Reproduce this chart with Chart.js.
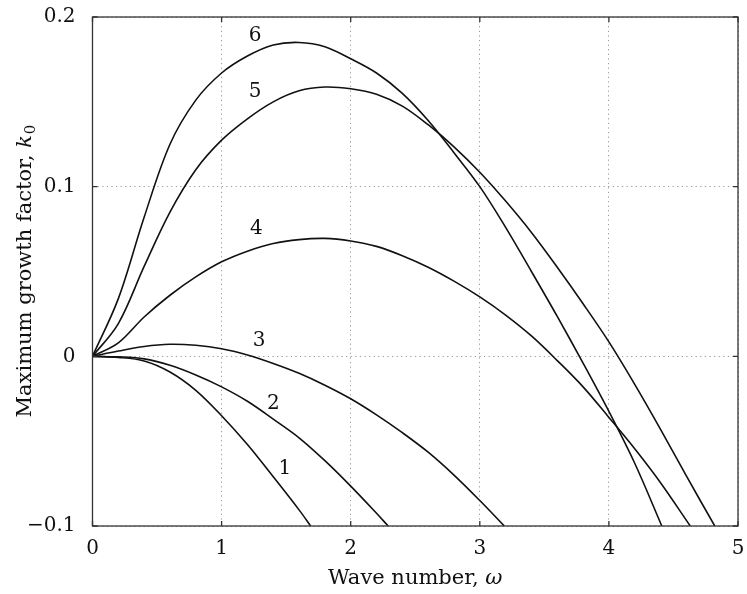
<!DOCTYPE html>
<html>
<head>
<meta charset="utf-8">
<script src="https://cdn.jsdelivr.net/npm/chart.js@4/dist/chart.umd.min.js"></script>
<style>
  html, body { margin: 0; padding: 0; background: #fff; }
  canvas { display: block; }
</style>
</head>
<body>
<canvas id="growthChart" width="747" height="594"></canvas>
<script>
// wave number grid the curves were sampled on
const omega = [0, 0.2, 0.4, 0.6, 0.8, 1, 1.2, 1.4, 1.6, 1.8, 2, 2.2, 2.4, 2.6, 2.8, 3, 3.2, 3.4, 3.6, 3.8, 4, 4.2, 4.4, 4.6];

// maximum growth factor k0 for curves 1..6
const k1 = [0, -0.0006, -0.0027, -0.0092, -0.020, -0.035, -0.052, -0.071, -0.0905];
const k2 = [0, -0.0003, -0.0015, -0.0053, -0.011, -0.018, -0.0265, -0.037, -0.048, -0.0615, -0.0765, -0.0925];
const k3 = [0, 0.0031, 0.0058, 0.0071, 0.0065, 0.0045, 0.0008, -0.0042, -0.0100, -0.0170, -0.025, -0.0345, -0.045, -0.0565, -0.070, -0.085];
const k4 = [0, 0.0079, 0.0232, 0.036, 0.0468, 0.0557, 0.062, 0.0665, 0.0688, 0.0695, 0.068, 0.0648, 0.0593, 0.0525, 0.0443, 0.035, 0.0243, 0.0120, -0.0025, -0.018, -0.036, -0.0545, -0.0745];
const k5 = [0, 0.0193, 0.053, 0.085, 0.110, 0.1274, 0.140, 0.150, 0.1565, 0.1587, 0.1577, 0.1545, 0.1475, 0.1365, 0.1235, 0.1085, 0.0915, 0.073, 0.0525, 0.031, 0.0085, -0.0165, -0.043, -0.0705];
const k6 = [0, 0.034, 0.082, 0.125, 0.151, 0.167, 0.177, 0.1835, 0.185, 0.1825, 0.1754, 0.167, 0.155, 0.139, 0.120, 0.100, 0.076, 0.050, 0.0235, -0.004, -0.0325, -0.063];

// omega where each curve runs out through the bottom of the plot (k0 = -0.1)
const exitOmega = [1.69, 2.29, 3.19, 4.63, 4.82, 4.41];

const curveNames = ['1', '2', '3', '4', '5', '6'];
// where the curve numbers sit, in (omega, k0)
const labelAt = [[1.49, -0.066], [1.40, -0.0277], [1.29, 0.0094], [1.27, 0.075], [1.26, 0.156], [1.26, 0.189]];

const xTicks = ['0', '1', '2', '3', '4', '5'];
const yTicks = ['\u22120.1', '0', '0.1', '0.2'];

const serif = '"DejaVu Serif", serif';
const series = [k1, k2, k3, k4, k5, k6];

const datasets = series.map((k, i) => ({
    label: curveNames[i],
    data: k.map((v, j) => ({ x: omega[j], y: v })).concat([{ x: exitOmega[i], y: -0.1 }]),
    borderColor: '#111',
    borderWidth: 1.6,
    pointRadius: 0,
    fill: false,
    tension: 0.35
}));

// keep the plot box where the layout padding puts it
function noLabelPadding(scale) {
    scale.paddingTop = 0;
    scale.paddingBottom = 0;
    scale.paddingLeft = 0;
    scale.paddingRight = 0;
}

// frame, inward ticks, curve numbers and axis titles
const decorations = {
    id: 'decorations',
    afterDraw(chart) {
        const ctx = chart.ctx;
        const a = chart.chartArea;
        const xs = chart.scales.x, ys = chart.scales.y;
        ctx.save();

        ctx.strokeStyle = '#333';
        ctx.lineWidth = 1.3;
        ctx.strokeRect(a.left, a.top, a.right - a.left, a.bottom - a.top);
        ctx.beginPath();
        xs.ticks.forEach(t => {
            const px = xs.getPixelForValue(t.value);
            ctx.moveTo(px, a.bottom); ctx.lineTo(px, a.bottom - 5);
            ctx.moveTo(px, a.top); ctx.lineTo(px, a.top + 5);
        });
        ys.ticks.forEach(t => {
            const py = ys.getPixelForValue(t.value);
            ctx.moveTo(a.left, py); ctx.lineTo(a.left + 5, py);
            ctx.moveTo(a.right, py); ctx.lineTo(a.right - 5, py);
        });
        ctx.stroke();

        ctx.fillStyle = '#111';
        ctx.font = '20px ' + serif;
        ctx.textAlign = 'center';
        ctx.textBaseline = 'middle';
        labelAt.forEach((p, i) => {
            ctx.fillText(curveNames[i], xs.getPixelForValue(p[0]), ys.getPixelForValue(p[1]));
        });

        // x title: "Wave number, ω"
        ctx.textAlign = 'left';
        ctx.textBaseline = 'alphabetic';
        const xa = 'Wave number, ';
        ctx.font = '21px ' + serif;
        const wa = ctx.measureText(xa).width;
        ctx.font = 'italic 21px ' + serif;
        const wb = ctx.measureText('\u03c9').width;
        let x0 = (a.left + a.right) / 2 - (wa + wb) / 2;
        ctx.font = '21px ' + serif;
        ctx.fillText(xa, x0, 584);
        ctx.font = 'italic 21px ' + serif;
        ctx.fillText('\u03c9', x0 + wa, 584);

        // y title: "Maximum growth factor, k0"
        ctx.translate(31, (a.top + a.bottom) / 2);
        ctx.rotate(-Math.PI / 2);
        const ya = 'Maximum growth factor, ';
        ctx.font = '21px ' + serif;
        const ha = ctx.measureText(ya).width;
        ctx.font = 'italic 21px ' + serif;
        const hb = ctx.measureText('k').width;
        ctx.font = '15px ' + serif;
        const hc = ctx.measureText('0').width;
        let y0 = -(ha + hb + hc) / 2;
        ctx.font = '21px ' + serif;
        ctx.fillText(ya, y0, 0);
        ctx.font = 'italic 21px ' + serif;
        ctx.fillText('k', y0 + ha, 0);
        ctx.font = '15px ' + serif;
        ctx.fillText('0', y0 + ha + hb + 1, 4);

        ctx.restore();
    }
};

const chart = new Chart(document.getElementById('growthChart'), {
    type: 'line',
    data: { datasets: datasets },
    options: {
        responsive: false,
        animation: false,
        devicePixelRatio: 1,
        layout: { padding: { top: 17, right: 9, left: 0, bottom: 0 } },
        plugins: { legend: { display: false }, tooltip: { enabled: false } },
        scales: {
            x: {
                type: 'linear',
                min: 0,
                max: 5,
                afterFit: scale => { noLabelPadding(scale); scale.height = 68; },
                ticks: {
                    stepSize: 1,
                    padding: 11,
                    color: '#111',
                    font: { family: serif, size: 20 },
                    callback: (v, i) => xTicks[i]
                },
                grid: { color: '#999', lineWidth: 1, drawTicks: false, tickLength: 0 },
                border: { display: false, dash: [1.2, 3.4] }
            },
            y: {
                type: 'linear',
                min: -0.1,
                max: 0.2,
                afterFit: scale => { noLabelPadding(scale); scale.width = 92.5; },
                ticks: {
                    stepSize: 0.1,
                    padding: 17,
                    color: '#111',
                    font: { family: serif, size: 20 },
                    callback: (v, i) => yTicks[i]
                },
                grid: { color: '#999', lineWidth: 1, drawTicks: false, tickLength: 0 },
                border: { display: false, dash: [1.2, 3.4] }
            }
        }
    },
    plugins: [decorations]
});
</script>
</body>
</html>
